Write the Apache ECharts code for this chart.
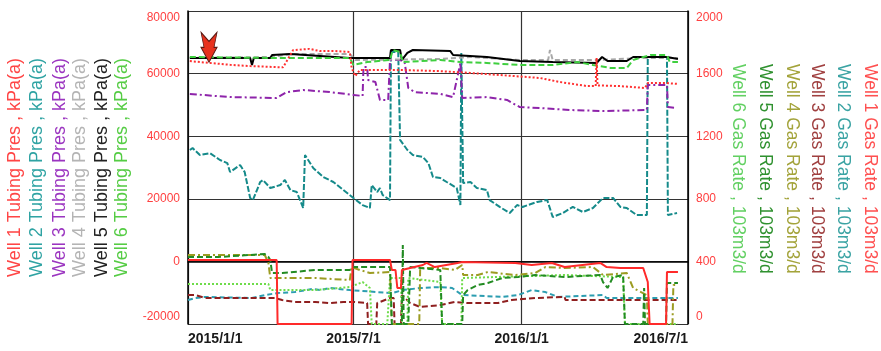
<!DOCTYPE html>
<html>
<head>
<meta charset="utf-8">
<script src="https://cdn.jsdelivr.net/npm/echarts@6.0.0/dist/echarts.min.js"></script>
<style>
  html, body { margin: 0; background: #fff; }
  #chart { width: 881px; height: 351px; }
</style>
</head>
<body>
<div id="chart"></div>
<script>
// x values are days counted from 2015/1/1
const tickDays = [0, 181, 365, 547];

const pressMin = -20000, pressMax = 80000, pressStep = 20000;
const rateMin = 0, rateMax = 2000, rateStep = 400;

const pressNames = [
  "Well 1 Tubing Pres , kPa(a)", "Well 2 Tubing Pres , kPa(a)", "Well 3 Tubing Pres , kPa(a)",
  "Well 4 Tubing Pres , kPa(a)", "Well 5 Tubing Pres , kPa(a)", "Well 6 Tubing Pres , kPa(a)",
];
const rateNames = [
  "Well 1 Gas Rate , 103m3/d", "Well 2 Gas Rate , 103m3/d", "Well 3 Gas Rate , 103m3/d",
  "Well 4 Gas Rate , 103m3/d", "Well 5 Gas Rate , 103m3/d", "Well 6 Gas Rate , 103m3/d",
];

// tubing pressure, kPa(a)  [day, value]
const press1 = [[2,64000],[24,63400],[46,62800],[68,62400],[95,62100],[104,62000],[115,67500],[133,67900],[144,67200],[161,67200],[177,66900],[179,61800],[183,59200],[188,61150],[232,61150],[276,60800],[309,60200],[341,59550],[385,58600],[407,57300],[437,56000],[446,56000],[447,65000],[448,56200],[451,56200],[473,56000],[500,55400],[502,55400],[503,57000],[522,57000],[536,56700]];
const press2 = [[2,35600],[5,36200],[13,34000],[24,34600],[35,32400],[43,31400],[46,28560],[57,30800],[62,28560],[68,20260],[71,19600],[79,25370],[82,26000],[90,23450],[101,24400],[106,26000],[112,22800],[119,22170],[126,17060],[128,34000],[137,29840],[148,26970],[159,25370],[170,22800],[181,20260],[191,18000],[199,17060],[201,24400],[207,22170],[210,23450],[213,21200],[221,19600],[222,66900],[230,66900],[232,38800],[240,35600],[246,34000],[257,33350],[263,31400],[268,26970],[276,26650],[283,25370],[294,23450],[298,18000],[299,66600],[300,66600],[301,25050],[309,25370],[316,23450],[327,22800],[330,19600],[341,17400],[352,15460],[360,18000],[366,17400],[382,19000],[393,19600],[399,14200],[410,15460],[421,17400],[432,15780],[443,17060],[454,20260],[465,20260],[473,17400],[480,17060],[491,14800],[502,14800],[503,65300],[524,65300],[525,14800],[535,15460]];
const press3 = [[2,53500],[46,52500],[97,52200],[108,54100],[126,54760],[155,54100],[181,53200],[191,52850],[192,62100],[196,62100],[197,57960],[205,57300],[210,51570],[219,51570],[221,64350],[232,64350],[237,63700],[241,55400],[248,54100],[276,53500],[290,52500],[298,63400],[300,52200],[327,52500],[349,51570],[363,49300],[385,49000],[418,48370],[454,48050],[502,48370],[503,56360],[524,56360],[525,49300],[535,49000]];
const press4 = [[2,65000],[90,65300],[112,66265],[177,66265],[183,64350],[276,64650],[309,65300],[363,64350],[394,64350],[396,67540],[399,64350],[451,64350],[495,65000],[536,65000]];
const press5 = [[2,65000],[68,65000],[70,62750],[72,65000],[90,65000],[92,65950],[112,66265],[177,65000],[221,65000],[222,67540],[232,67540],[234,64350],[240,66600],[246,67540],[287,67200],[290,65950],[327,65300],[363,64030],[399,63700],[447,63400],[453,65300],[459,64030],[480,64030],[487,65300],[509,65300],[524,65300],[536,64670]];
const press6 = [[2,65300],[90,65000],[177,65000],[181,62750],[196,63700],[221,64350],[224,67540],[232,66900],[235,63700],[276,64350],[298,63700],[327,63400],[363,62750],[399,62750],[426,63700],[443,62750],[462,61800],[480,61800],[487,64350],[506,65950],[524,65950],[527,63700],[536,63700]];

// gas rate, 103m3/d  [day, value]
const rate1 = [[0,409],[97,409],[98,0],[179,0],[180,409],[221,409],[223,345],[227,345],[229,230],[233,230],[234,345],[243,358],[257,377],[261,390],[270,364],[295,390],[300,396],[358,390],[376,377],[398,390],[412,364],[451,390],[458,364],[473,358],[498,358],[503,268],[505,0],[523,0],[524,332],[536,332]];
const rate2 = [[0,153],[8,166],[19,173],[70,166],[84,185],[98,198],[117,204],[136,224],[144,217],[155,230],[177,217],[207,204],[224,198],[235,217],[254,230],[276,236],[289,230],[300,185],[344,173],[361,185],[376,217],[391,204],[405,173],[407,185],[454,185],[458,166],[536,166]];
const rate3 = [[0,185],[8,185],[19,166],[95,166],[103,153],[117,141],[139,141],[155,134],[170,141],[181,141],[196,134],[197,0],[206,0],[207,134],[221,166],[225,166],[226,0],[233,0],[234,185],[243,134],[254,109],[276,121],[292,141],[306,134],[339,134],[354,153],[380,166],[412,173],[413,153],[536,153]];
const rate4 = [[0,441],[84,441],[88,390],[90,294],[139,294],[177,281],[179,364],[188,345],[199,326],[221,332],[223,0],[253,0],[254,358],[276,358],[292,345],[300,377],[301,313],[317,313],[328,332],[358,313],[380,326],[391,364],[412,358],[443,364],[454,313],[480,326],[487,230],[502,185],[503,0],[530,0],[531,249],[536,249]];
const rate5 = [[0,428],[33,428],[84,447],[88,428],[90,409],[92,326],[103,326],[139,345],[177,345],[179,364],[221,364],[223,0],[234,0],[235,505],[236,0],[241,0],[243,364],[276,345],[278,0],[300,0],[301,185],[306,217],[317,249],[328,262],[344,294],[361,300],[380,313],[412,300],[451,313],[454,268],[459,230],[465,300],[476,313],[478,0],[498,0],[499,230],[500,0],[523,0],[524,262],[536,262]];
const rate6 = [[0,256],[88,256],[90,217],[139,217],[177,236],[191,268],[199,230],[201,0],[218,0],[221,294],[233,294],[234,0],[240,0],[241,294],[276,268],[278,0],[299,0],[300,294],[412,313],[476,300],[478,0],[536,0]];

const pressColors = ["#ff3030", "#158a8a", "#8e24aa", "#a8a8a8", "#000000", "#3fcf3f"];
const pressLabelColors = ["#ff4545", "#2fa3a3", "#9b35c0", "#b4b4b4", "#222222", "#55cc44"];
const rateColors = ["#ff2a2a", "#2c9db0", "#8f1f1f", "#9c9c22", "#228b22", "#6edc4a"];
const rateLabelColors = ["#ff5050", "#3aa3a3", "#a04040", "#a3a33a", "#2f912f", "#62d062"];

const fmtDay = (d) => {
  const t = new Date(2015, 0, 1 + Math.round(d));
  return t.getFullYear() + "/" + (t.getMonth() + 1) + "/" + t.getDate();
};

const chart = echarts.init(document.getElementById("chart"), null, { renderer: "canvas" });

function lineSeries(name, data, axis, color, type, width, z) {
  return {
    name,
    type: "line",
    yAxisIndex: axis,
    data,
    symbol: "none",
    showSymbol: false,
    silent: true,
    z: z,
    lineStyle: { color, type, width },
    itemStyle: { color },
  };
}

const dashDot = [7, 3, 2, 3];

const series = [
  lineSeries(rateNames[1], rate2, 1, rateColors[1], [5, 3], 2, 2),
  lineSeries(rateNames[2], rate3, 1, rateColors[2], [6, 3], 2, 2),
  lineSeries(rateNames[5], rate6, 1, rateColors[5], [2, 2], 2, 2),
  lineSeries(rateNames[3], rate4, 1, rateColors[3], dashDot, 2, 2),
  lineSeries(rateNames[4], rate5, 1, rateColors[4], [6, 3], 2, 2),
  lineSeries(rateNames[0], rate1, 1, rateColors[0], "solid", 2, 3),
  lineSeries(pressNames[1], press2, 0, pressColors[1], [6, 2], 2, 3),
  lineSeries(pressNames[2], press3, 0, pressColors[2], dashDot, 2, 3),
  lineSeries(pressNames[3], press4, 0, pressColors[3], [5, 3], 2, 3),
  lineSeries(pressNames[4], press5, 0, pressColors[4], "solid", 2, 3),
  lineSeries(pressNames[5], press6, 0, pressColors[5], [6, 3], 2, 3),
  lineSeries(pressNames[0], press1, 0, pressColors[0], [2, 2], 2, 4),
];

// arrow marker pointing at the Well 1 pressure curve
series[series.length - 1].markPoint = {
  silent: true,
  symbol: "path://M0,0 L8,9 L16,0 L13,15 L16,15 L8,30 L0,15 L3,15 Z",
  symbolSize: [16, 30],
  symbolOffset: [0, "-50%"],
  itemStyle: { color: "#e8321e", borderColor: "#5a1a14", borderWidth: 1 },
  label: { show: false },
  data: [{ coord: [23, 63600] }],
};

function edgeLabels(min, max, color) {
  const base = { color, fontSize: 12, fontFamily: "Liberation Sans, Arial, sans-serif" };
  return {
    formatter: (v) => (v === max ? "{top|" + v + "}" : v === min ? "{bot|" + v + "}" : "{n|" + v + "}"),
    rich: {
      top: Object.assign({ padding: [14, 0, 0, 0] }, base),
      bot: Object.assign({ padding: [0, 0, 14, 0] }, base),
      n: base,
    },
  };
}

const leftX = [15, 37, 60, 80, 102, 122];
const rightX = [870, 843, 817, 792, 765, 738];

const graphics = [];
pressNames.forEach((t, i) => {
  graphics.push({
    type: "text",
    x: leftX[i],
    y: 277,
    rotation: Math.PI / 2,
    silent: true,
    style: {
      text: t,
      fill: pressLabelColors[i],
      font: "18px 'Liberation Sans', Arial, sans-serif",
      textAlign: "left",
      textVerticalAlign: "middle",
    },
  });
});
rateNames.forEach((t, i) => {
  graphics.push({
    type: "text",
    x: rightX[i],
    y: 64,
    rotation: -Math.PI / 2,
    silent: true,
    style: {
      text: t,
      fill: rateLabelColors[i],
      font: "17.5px 'Liberation Sans', Arial, sans-serif",
      textAlign: "left",
      textVerticalAlign: "middle",
    },
  });
});

chart.setOption({
  animation: false,
  backgroundColor: "#fff",
  grid: { left: 188, right: 193, top: 11, bottom: 27 },
  xAxis: {
    type: "value",
    min: tickDays[0],
    max: tickDays[tickDays.length - 1],
    axisLine: { lineStyle: { color: "#000", width: 1.5 } },
    axisTick: { show: false, customValues: tickDays },
    axisLabel: {
      customValues: tickDays,
      formatter: fmtDay,
      color: "#1a1a1a",
      fontSize: 14,
      fontWeight: "bold",
      fontFamily: "Liberation Sans, Arial, sans-serif",
      margin: 8,
      alignMinLabel: "left",
      alignMaxLabel: "right",
    },
    splitLine: { show: true, lineStyle: { color: "#333", width: 1.2 } },
  },
  yAxis: [
    {
      type: "value",
      min: pressMin,
      max: pressMax,
      interval: pressStep,
      position: "left",
      axisLine: { show: true, lineStyle: { color: "#000", width: 1.5 } },
      axisTick: { show: false },
      axisLabel: Object.assign({ margin: 8 }, edgeLabels(pressMin, pressMax, "#ff4040")),
      splitLine: { show: true, lineStyle: { color: "#333", width: 1.2 } },
    },
    {
      type: "value",
      min: rateMin,
      max: rateMax,
      interval: rateStep,
      position: "right",
      axisLine: { show: true, lineStyle: { color: "#000", width: 1.5 } },
      axisTick: { show: false },
      axisLabel: Object.assign({ margin: 8 }, edgeLabels(rateMin, rateMax, "#ff4040")),
      splitLine: { show: false },
    },
  ],
  graphic: graphics,
  series,
});
</script>
</body>
</html>
